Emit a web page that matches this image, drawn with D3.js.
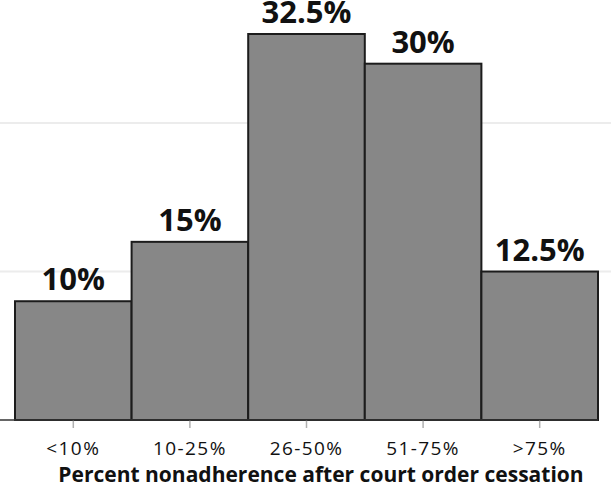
<!DOCTYPE html>
<html><head><meta charset="utf-8">
<script src="https://cdn.jsdelivr.net/npm/d3@7"></script>
<style>html,body{margin:0;padding:0;background:#fff;}svg{display:block;}</style>
</head><body>
<script>
const categories = ["<10%", "10-25%", "26-50%", "51-75%", ">75%"];
const values = [10, 15, 32.5, 30, 12.5];
const valueLabels = ["10%", "15%", "32.5%", "30%", "12.5%"];
const gridValues = [12.5, 25];
const xTitle = "Percent nonadherence after court order cessation";

const W = 611, H = 484;
const svg = d3.select("body").append("svg").attr("width", W).attr("height", H);
const x = d3.scaleBand().domain(categories).range([15, 598]).padding(0);
const y = d3.scaleLinear().domain([0, 32.5]).range([420, 34]);

svg.append("g").selectAll("line").data(gridValues).join("line")
  .attr("x1", 0).attr("x2", W)
  .attr("y1", d => y(d)).attr("y2", d => y(d))
  .attr("stroke", "#ececec").attr("stroke-width", 2);

svg.append("g").selectAll("rect").data(values).join("rect")
  .attr("x", (d, i) => x(categories[i]))
  .attr("y", d => y(d))
  .attr("width", x.bandwidth())
  .attr("height", d => y(0) - y(d))
  .attr("fill", "#878787").attr("stroke", "#1c1c1c").attr("stroke-width", 2);

const xAxis = d3.axisBottom(x).tickSize(8).tickPadding(13.5);
const gx = svg.append("g").attr("transform", `translate(0,${y(0)})`).call(xAxis);
gx.select(".domain").remove();
gx.selectAll(".tick line").attr("stroke", "#b0b0b0").attr("stroke-width", 1.5);
gx.selectAll(".tick text").attr("font-family", "Open Sans").attr("font-size", 19)
  .attr("fill", "#111").attr("letter-spacing", "1.4px");
svg.append("line").attr("x1", 0).attr("x2", 598).attr("y1", y(0)).attr("y2", y(0))
  .attr("stroke", "#333").attr("stroke-width", 1.5);

svg.append("g").selectAll("text").data(values).join("text")
  .attr("x", (d, i) => x(categories[i]) + x.bandwidth() / 2)
  .attr("y", d => y(d) - 11)
  .attr("text-anchor", "middle")
  .attr("font-family", "Open Sans").attr("font-weight", "bold").attr("font-size", 31)
  .attr("fill", "#111")
  .text((d, i) => valueLabels[i]);

svg.append("text").attr("x", 321).attr("y", 482).attr("text-anchor", "middle")
  .attr("font-family", "Open Sans").attr("font-weight", "bold").attr("font-size", 21)
  .attr("fill", "#111").text(xTitle);
</script>
</body></html>
